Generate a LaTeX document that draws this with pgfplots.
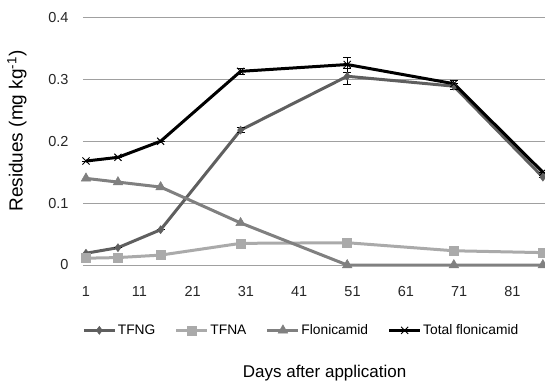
\documentclass[border=0pt]{standalone}
\usepackage{fontspec}
\setmainfont{Liberation Sans}
\usepackage{pgfplots}
\usepackage{pgfplotstable}
\pgfplotsset{compat=1.18}
\definecolor{cTFNG}{HTML}{5F5F5F}
\definecolor{cTFNA}{HTML}{AAAAAA}
\definecolor{cFlo}{HTML}{808080}
\definecolor{cGrid}{HTML}{A0A0A0}
\pgfplotstableread{
x y e
1 0.019 0
7 0.028 0
15 0.057 0
30 0.218 0.004
50 0.305 0.013
70 0.289 0.005
86.7 0.142 0
}\tfng
\pgfplotstableread{
x y e
1 0.011 0
7 0.012 0
15 0.016 0
30 0.035 0
50 0.036 0
70 0.023 0
86.7 0.020 0
}\tfna
\pgfplotstableread{
x y e
1 0.140 0
7 0.134 0
15 0.126 0
30 0.068 0
50 0.000 0
70 0.000 0
86.7 0.000 0
}\flon
\pgfplotstableread{
x y e
1 0.168 0
7 0.174 0
15 0.200 0
30 0.313 0.005
50 0.324 0.012
70 0.293 0.005
86.7 0.150 0
}\total
\begin{document}
\begin{tikzpicture}
\begin{axis}[
  scale only axis, width=462pt, height=247.5pt,
  xmin=0.44, xmax=87.1, ymin=0, ymax=0.4,
  xtick={1,11,21,31,41,51,61,71,81},
  xticklabels={1,11,21,31,41,51,61,71,81},
  ytick={0,0.1,0.2,0.3,0.4},
  yticklabels={0,0.1,0.2,0.3,0.4},
  major tick length=0pt,
  axis line style={draw=none},
  ymajorgrids, grid style={cGrid, line width=0.9pt},
  tick label style={font=\fontsize{14.5}{16}\selectfont, text=black!85},
  yticklabel style={anchor=east, xshift=-11pt},
  xticklabel style={anchor=base, yshift=-31pt},
  ylabel={Residues (mg kg\textsuperscript{-1})},
  ylabel style={font=\fontsize{19}{21}\selectfont, at={(axis description cs:-0.143,0.541)}, anchor=center},
  xlabel={Days after application},
  xlabel style={font=\fontsize{17}{19}\selectfont, at={(axis description cs:0.523,-0.435)}, anchor=center},
  legend columns=4,
  legend style={draw=none, at={(0.472,-0.264)}, anchor=center, font=\fontsize{13.8}{16}\selectfont,
    nodes={inner sep=1.5pt},
    /tikz/every even column/.append style={column sep=18pt}},
  legend image code/.code={\draw[mark repeat=2,mark phase=2] plot coordinates {(0pt,0pt)(15.5pt,0pt)(31pt,0pt)};},
  error bars/error bar style={black, line width=0.7pt},
  error bars/error mark options={rotate=90, mark size=4pt, black, line width=0.7pt},
  clip=false,
]
\addplot[cTFNG, line width=3pt, mark=diamond*, mark size=4pt, mark options={fill=cTFNG, line width=0.5pt},
  error bars/.cd, y dir=both, y explicit] table[x=x, y=y, y error=e] {\tfng};
\addlegendentry{TFNG}
\addplot[cTFNA, line width=3pt, mark=square*, mark size=4.5pt, mark options={fill=cTFNA, line width=0.5pt}] table[x=x, y=y] {\tfna};
\addlegendentry{TFNA}
\addplot[cFlo, line width=3pt, mark=triangle*, mark size=5.5pt, mark options={fill=cFlo, line width=0.5pt}] table[x=x, y=y] {\flon};
\addlegendentry{Flonicamid}
\addplot[black, line width=3pt, mark=x, mark size=5pt, mark options={line width=0.9pt},
  error bars/.cd, y dir=both, y explicit] table[x=x, y=y, y error=e] {\total};
\addlegendentry{Total flonicamid}
\end{axis}
\pgfresetboundingbox
\useasboundingbox (-83pt,-118pt) rectangle (462pt,265pt);
\end{tikzpicture}
\end{document}
